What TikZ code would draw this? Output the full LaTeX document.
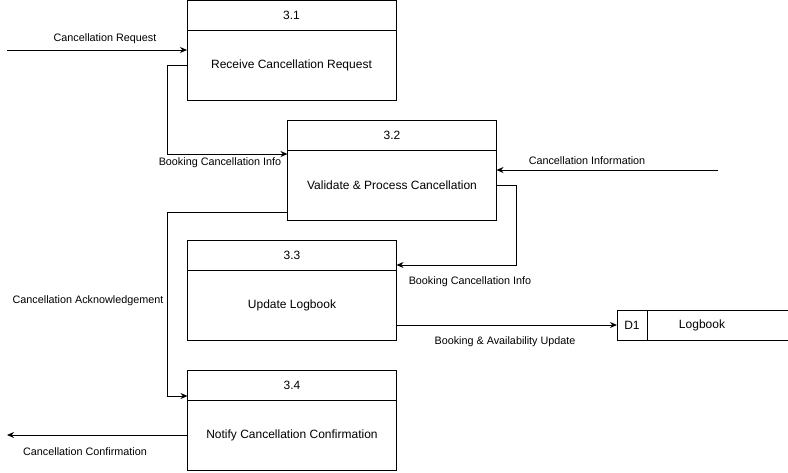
\documentclass[tikz,border=0pt]{standalone}
\usepackage{fontspec}
\setmainfont{Liberation Sans}
\usetikzlibrary{arrows.meta, positioning, calc}

\begin{document}
\begin{tikzpicture}[
    x=1pt, y=-1pt,
    >={Stealth[length=7pt, width=6pt]},
    hdr/.style={draw, line width=1pt, outer sep=0pt, minimum width=209pt, minimum height=30pt, inner sep=0pt, font=\fontsize{12}{14}\selectfont},
    body/.style={draw, line width=1pt, outer sep=0pt, minimum width=209pt, minimum height=70pt, inner sep=0pt, font=\fontsize{12}{14}\selectfont},
    flow/.style={->, line width=1pt},
    lbl/.style={font=\fontsize{10.8}{13}\selectfont, inner sep=1pt},
  ]
  \useasboundingbox (0,0) rectangle (788,472);
  % Processes
  \node[hdr] (p1h) at (291.5,15) {3.1};
  \node[body, below=0pt of p1h] (p1) {Receive Cancellation Request};
  \node[hdr] (p2h) at (392,135) {3.2};
  \node[body, below=0pt of p2h] (p2) {Validate \& Process Cancellation};
  \node[hdr] (p3h) at (292,255) {3.3};
  \node[body, below=0pt of p3h] (p3) {Update Logbook};
  \node[hdr] (p4h) at (292,385) {3.4};
  \node[body, below=0pt of p4h] (p4) {Notify Cancellation Confirmation};
  % Data store
  \node[draw, line width=1pt, outer sep=0pt, minimum width=30pt, minimum height=30pt, inner sep=0pt, font=\fontsize{12}{14}\selectfont] (d1) at (632,325) {D1};
  \node[outer sep=0pt, minimum width=110pt, minimum height=30pt, inner sep=0pt, font=\fontsize{12}{14}\selectfont, right=0pt of d1] (logbook) {Logbook};
  \draw[line width=1pt] (d1.north east) -- ++(141,0);
  \draw[line width=1pt] (d1.south east) -- ++(141,0);
  % External ends
  \coordinate (src1) at (7,50);
  \coordinate (src2) at (718,170);
  \coordinate (sink) at (7,435);
  % Flows
  \draw[flow] (src1) -- (src1 -| p1.west);
  \node[lbl] (l1) at (105,39) {Cancellation Request};
  \draw[flow] (p1.west) -- ++(-20,0) |- ([yshift=-4pt]p2h.south west);
  \node[lbl] (l2) at (220,163) {Booking Cancellation Info};
  \draw[flow] (src2) -- (src2 -| p2.east);
  \node[lbl] (l3) at (587,161) {Cancellation Information};
  \draw[flow] (p2.east) -- ++(20,0) |- ([yshift=-10pt]p3h.east);
  \node[lbl] (l4) at (470,282) {Booking Cancellation Info};
  \draw[flow] ([yshift=8pt]p2.south west) -- ++(-120,0) |- ([yshift=-11pt]p4h.west);
  \node[lbl] (l5) at (88,301) {Cancellation Acknowledgement};
  \draw[flow] ([yshift=-20pt]p3.east) -- (d1.west);
  \node[lbl] (l6) at (505,342) {Booking \& Availability Update};
  \draw[flow] (p4.west) -- (sink);
  \node[lbl] (l7) at (85,452) {Cancellation Confirmation};
\end{tikzpicture}
\end{document}
